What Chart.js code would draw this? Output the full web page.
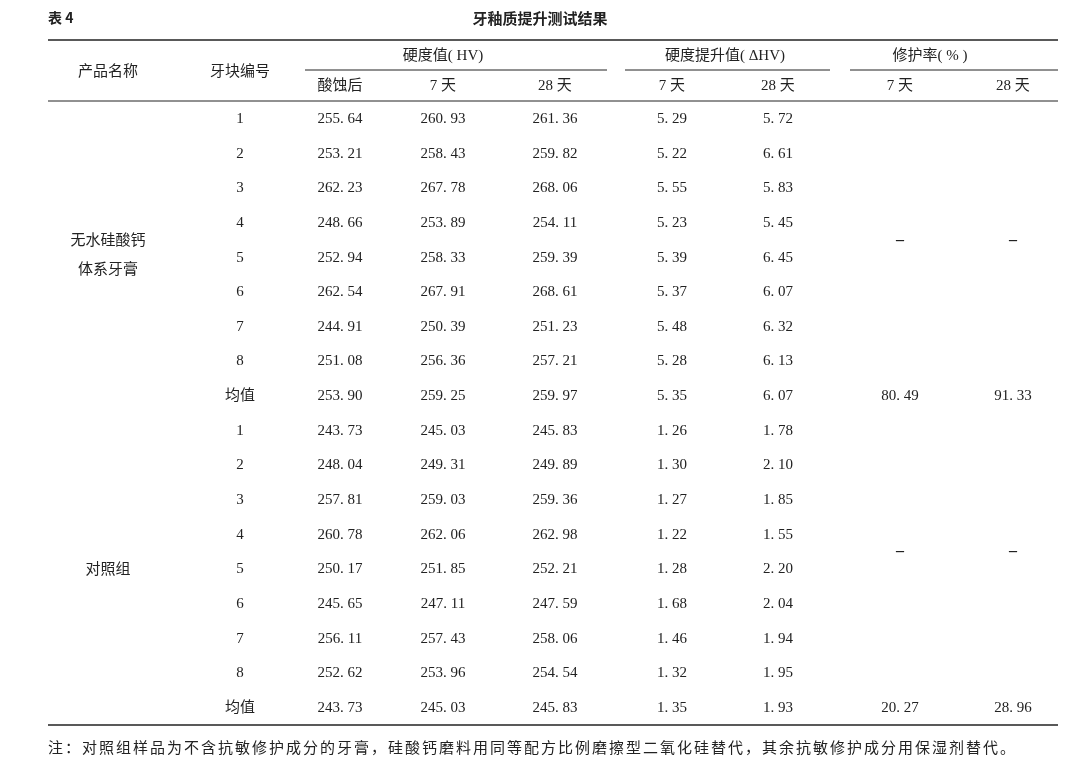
<!DOCTYPE html>
<html><head><meta charset="utf-8">
<script src="https://cdn.jsdelivr.net/npm/chart.js@4.4.0/dist/chart.umd.min.js"></script>
<style>html,body{margin:0;padding:0;background:#fff}#wrap{width:1080px;height:764px}</style>
</head><body><div id="wrap"><canvas id="c"></canvas></div>
<script>
const tableLabel = "表 4";
const title = "牙釉质提升测试结果";
const note = "注：对照组样品为不含抗敏修护成分的牙膏，硅酸钙磨料用同等配方比例磨擦型二氧化硅替代，其余抗敏修护成分用保湿剂替代。";
const groupHeaders = ["硬度值( HV)", "硬度提升值( ΔHV)", "修护率( % )"];
const subHeaders = ["酸蚀后", "7 天", "28 天", "7 天", "28 天", "7 天", "28 天"];
const products = ["无水硅酸钙\n体系牙膏", "对照组"];
const blockIds = ["1","2","3","4","5","6","7","8","均值","1","2","3","4","5","6","7","8","均值"];
const hvAcid = [255.64,253.21,262.23,248.66,252.94,262.54,244.91,251.08,253.90,243.73,248.04,257.81,260.78,250.17,245.65,256.11,252.62,243.73];
const hv7 = [260.93,258.43,267.78,253.89,258.33,267.91,250.39,256.36,259.25,245.03,249.31,259.03,262.06,251.85,247.11,257.43,253.96,245.03];
const hv28 = [261.36,259.82,268.06,254.11,259.39,268.61,251.23,257.21,259.97,245.83,249.89,259.36,262.98,252.21,247.59,258.06,254.54,245.83];
const d7 = [5.29,5.22,5.55,5.23,5.39,5.37,5.48,5.28,5.35,1.26,1.30,1.27,1.22,1.28,1.68,1.46,1.32,1.35];
const d28 = [5.72,6.61,5.83,5.45,6.45,6.07,6.32,6.13,6.07,1.78,2.10,1.85,1.55,2.20,2.04,1.94,1.95,1.93];
const repair7 = ["80.49", "20.27"];
const repair28 = ["91.33", "28.96"];

const fmt = v => v.toFixed(2).replace(".", ". ");
const colX = [108,240,340,443,555,672,778,900,1013];
const rowY0 = 119, rowH = 34.65;
const F = '"Liberation Serif","Noto Sans CJK SC",serif';

const tablePlugin = {
  id: 'table',
  afterDraw(chart) {
    const ctx = chart.ctx, sx = chart.scales.x, sy = chart.scales.y;
    const X = v => sx.getPixelForValue(v), Y = v => sy.getPixelForValue(v);
    ctx.save();
    ctx.fillStyle = '#222'; ctx.strokeStyle = '#222';
    ctx.textBaseline = 'middle';
    const text = (t, x, y, align='center', font='15px '+F, ls='0px') => { ctx.font = font; ctx.letterSpacing = ls; ctx.textAlign = align; ctx.fillText(t, X(x), Y(y)); ctx.letterSpacing = '0px'; };
    const line = (x1, x2, y, w) => { ctx.lineWidth = w; ctx.beginPath(); ctx.moveTo(X(x1), Y(y)); ctx.lineTo(X(x2), Y(y)); ctx.stroke(); };
    text(tableLabel, 48, 18, 'left', 'bold 14px "Noto Sans CJK SC"');
    text(title, 540, 18, 'center', 'bold 15px "Noto Sans CJK SC"');
    line(48, 1058, 40, 1.6);
    line(48, 1058, 101, 1);
    line(48, 1058, 725, 1.6);
    text("产品名称", colX[0], 72); text("牙块编号", colX[1], 72);
    text(groupHeaders[0], 443, 56); line(305, 607, 70, 1);
    text(groupHeaders[1], 725, 56); line(625, 830, 70, 1);
    text(groupHeaders[2], 930, 56); line(850, 1058, 70, 1);
    subHeaders.forEach((s, i) => text(s, colX[i+2], 86));
    const cols = [hvAcid, hv7, hv28, d7, d28];
    blockIds.forEach((b, r) => {
      const y = rowY0 + r*rowH;
      text(b, colX[1], y);
      cols.forEach((c, ci) => text(fmt(c[r]), colX[ci+2], y));
    });
    text("无水硅酸钙", colX[0], 241); text("体系牙膏", colX[0], 270);
    text(products[1], colX[0], 570);
    const dash = 'bold 16px '+F;
    text("–", colX[7], 241, 'center', dash); text("–", colX[8], 241, 'center', dash);
    text("–", colX[7], 552, 'center', dash); text("–", colX[8], 552, 'center', dash);
    repair7.forEach((v, g) => text(v.replace(".", ". "), colX[7], rowY0 + (8 + 9*g)*rowH));
    repair28.forEach((v, g) => text(v.replace(".", ". "), colX[8], rowY0 + (8 + 9*g)*rowH));
    text(note, 48, 747, 'left', '15px "Noto Sans CJK SC"', '2px');
    ctx.restore();
  }
};

new Chart(document.getElementById('c'), {
  type: 'scatter',
  data: { datasets: [{ data: [], pointRadius: 0 }] },
  options: {
    responsive: true, maintainAspectRatio: false, animation: false,
    layout: { padding: 0 },
    plugins: { legend: { display: false }, tooltip: { enabled: false } },
    scales: {
      x: { type: 'linear', min: 0, max: 1080, display: false },
      y: { type: 'linear', min: 0, max: 764, reverse: true, display: false }
    }
  },
  plugins: [tablePlugin]
});
</script></body></html>
